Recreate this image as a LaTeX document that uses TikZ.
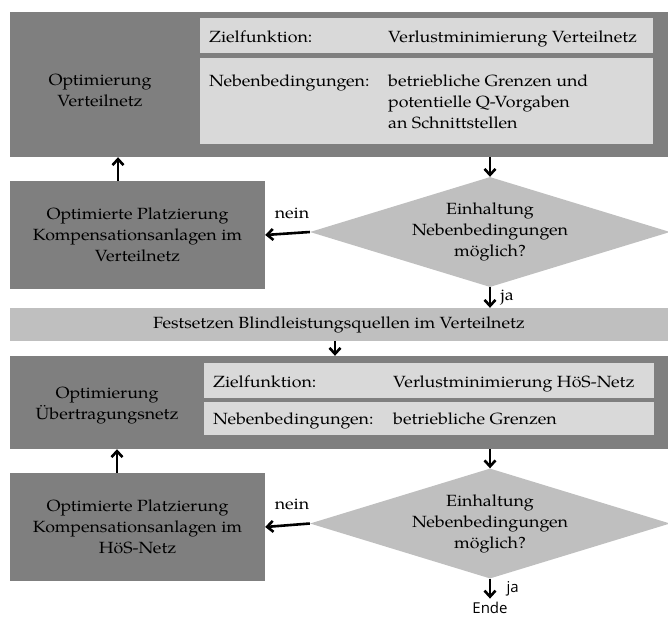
\documentclass[tikz,border=0pt]{standalone}
\usepackage{fontspec}
\setmainfont{texgyrepagella}[Extension=.otf, UprightFont=*-regular, BoldFont=*-bold, ItalicFont=*-italic, BoldItalicFont=*-bolditalic, FakeStretch=1.1]
\newfontfamily\endefont{Open Sans}
\usetikzlibrary{shapes.geometric,arrows.meta}

\definecolor{darkfill}{RGB}{127,127,127}
\definecolor{lightfill}{RGB}{217,217,217}
\definecolor{midfill}{RGB}{191,191,191}

\tikzset{
  darkbox/.style={fill=darkfill, inner sep=0pt, align=center},
  lightbox/.style={fill=lightfill, inner sep=0pt},
  midbox/.style={fill=midfill, inner sep=0pt, align=center},
  decision/.style={diamond, fill=midfill, inner sep=0pt, aspect=3.27, align=center, minimum width=360pt, minimum height=110pt},
  lbl/.style={anchor=base west, inner sep=0pt, align=left},
  flow/.style={-{Straight Barb[length=6pt,width=11pt]}, line width=2.6pt},
  sanslbl/.style={font=\endefont\fontsize{15}{18}\selectfont},
}

\begin{document}
\begin{tikzpicture}[x=1pt,y=-1pt,font=\fontsize{16.2}{21}\selectfont]
\useasboundingbox (0,0) rectangle (668,616);

\node[darkbox, minimum width=658pt, minimum height=145pt] (optVN) at (339,84.5) {};
\node[align=center] (optVNtext) at (100,90) {Optimierung\\Verteilnetz};
\node[lightbox, minimum width=453pt, minimum height=35pt] (zielVN) at (426.5,35.5) {};
\node[lightbox, minimum width=453pt, minimum height=86pt] (nebenVN) at (426.5,101) {};
\node[lbl] (zielVNa) at (209,42) {Zielfunktion:};
\node[lbl] (zielVNb) at (388,42) {Verlustminimierung Verteilnetz};
\node[lbl] (nebenVNa) at (209,86) {Nebenbedingungen:};
\node[lbl] (nebenVNb) at (388,128) {betriebliche Grenzen und\\potentielle Q-Vorgaben\\an Schnittstellen};

\node[darkbox, minimum width=255pt, minimum height=108pt] (placeVN) at (137.5,235) {Optimierte Platzierung\\Kompensationsanlagen im\\Verteilnetz};
\node[decision] (checkVN) at (490,232) {Einhaltung\\Nebenbedingungen\\möglich?};
\coordinate (riseVN) at (118,0);

\node[midbox, minimum width=658pt, minimum height=33pt] (fix) at (339,324.5) {Festsetzen Blindleistungsquellen im Verteilnetz};
\coordinate (dropFix) at (335,0);

\node[darkbox, minimum width=658pt, minimum height=93pt] (optUN) at (339,402.5) {};
\node[align=center] (optUNtext) at (107,406) {Optimierung\\Übertragungsnetz};
\node[lightbox, minimum width=450pt, minimum height=35pt] (zielUN) at (429,380.5) {};
\node[lightbox, minimum width=450pt, minimum height=33pt] (nebenUN) at (429,418.5) {};
\node[lbl] (zielUNa) at (213,387) {Zielfunktion:};
\node[lbl] (zielUNb) at (393,387) {Verlustminimierung HöS-Netz};
\node[lbl] (nebenUNa) at (213,424) {Nebenbedingungen:};
\node[lbl] (nebenUNb) at (393,424) {betriebliche Grenzen};

\node[darkbox, minimum width=255pt, minimum height=108pt] (placeUN) at (137.5,527) {Optimierte Platzierung\\Kompensationsanlagen im\\HöS-Netz};
\node[decision] (checkUN) at (490,523.5) {Einhaltung\\Nebenbedingungen\\möglich?};
\coordinate (riseUN) at (117,0);
\node[sanslbl, anchor=base] (ende) at (490,613.5) {Ende};

\draw[flow] (riseVN |- placeVN.north) -- (riseVN |- optVN.south);
\draw[flow] (checkVN.north |- optVN.south) -- (checkVN.north);
\draw[flow] (checkVN.west) -- node[pos=0.4, anchor=base, yshift=15pt] (neinVN) {nein} (placeVN.east);
\draw[flow] (checkVN.south) -- node[anchor=west, xshift=6pt] (jaVN) {ja} (checkVN.south |- fix.north);
\draw[flow] (dropFix |- fix.south) -- (dropFix |- optUN.north);

\draw[flow] (riseUN |- placeUN.north) -- (riseUN |- optUN.south);
\draw[flow] (checkUN.north |- optUN.south) -- (checkUN.north);
\draw[flow] (checkUN.west) -- node[pos=0.4, anchor=base, yshift=15pt] (neinUN) {nein} (placeUN.east);
\draw[flow] (checkUN.south -| ende.north) -- node[sanslbl, anchor=west, xshift=12pt] (jaUN) {ja} (ende.north);
\end{tikzpicture}
\end{document}
